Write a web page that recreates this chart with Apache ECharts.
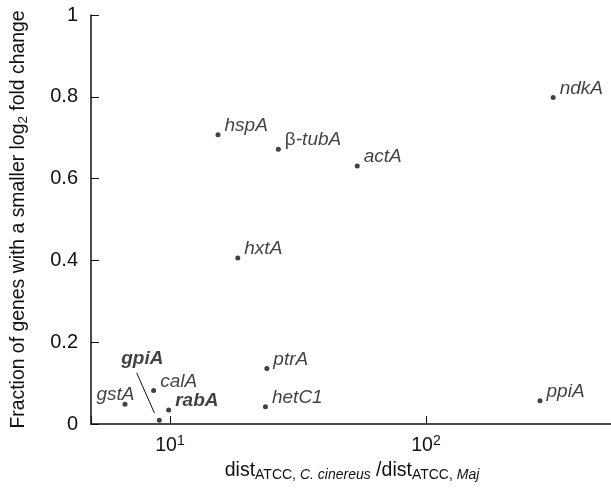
<!DOCTYPE html>
<html lang="en">
<head>
    <meta charset="UTF-8">
    <title>Fold change fraction</title>
    <script src="https://cdn.jsdelivr.net/npm/echarts@6/dist/echarts.min.js"></script>
    <style>
        html, body {margin: 0; padding: 0; background: #fff;}
        #chart {width: 611px; height: 489px;}
    </style>
</head>
<body>
<div id="chart"></div>
<script>
    // data
    var genes = ['hspA', 'β-tubA', 'actA', 'ndkA', 'hxtA', 'ptrA', 'hetC1', 'ppiA', 'gstA', 'calA', 'rabA', 'gpiA'];
    var distRatio = [15.4, 26.5, 53.9, 314, 18.4, 23.9, 23.6, 279, 6.67, 8.63, 9.88, 9.08];
    var fraction = [0.707, 0.672, 0.631, 0.798, 0.406, 0.136, 0.042, 0.057, 0.048, 0.082, 0.034, 0.009];
    var boldGenes = ['rabA', 'gpiA'];
    var yTicks = [0, 0.2, 0.4, 0.6, 0.8, 1];
    // leader line from gpiA label down to its point (data space)
    var gpiLeader = [[7.41, 0.125], [8.69, 0.027]];

    var ink = '#111';
    var font = 'Liberation Sans';

    var points = [];
    for (var i = 0; i < genes.length; i++) {
        var item = {name: genes[i], value: [distRatio[i], fraction[i]]};
        var lab = {};
        if (boldGenes.indexOf(genes[i]) >= 0) lab.fontWeight = 'bold';
        if (genes[i] === 'gstA') { lab.position = 'left'; lab.offset = [16, -10]; }
        if (genes[i] === 'gpiA') { lab.position = 'top'; lab.offset = [-17, -46]; }
        item.label = lab;
        points.push(item);
    }

    var myChart = echarts.init(document.getElementById('chart'));
    var option = {
        backgroundColor: '#fff',
        animation: false,
        grid: {left: 91, top: 15, right: -2, bottom: 65, outerBoundsMode: 'none', containLabel: false},
        xAxis: {
            type: 'log',
            logBase: 10,
            min: 4.913,
            max: 537.8,
            name: 'dist{sub|ATCC, }{subi|C. cinereus}{n| /dist}{sub|ATCC, }{subi|Maj}',
            nameLocation: 'middle',
            nameGap: 30,
            nameTextStyle: {
                color: ink, fontFamily: font, fontSize: 19.5,
                rich: {
                    n: {color: ink, fontFamily: font, fontSize: 19.5},
                    sub: {color: ink, fontFamily: font, fontSize: 14, padding: [9, 0, 0, 0]},
                    subi: {color: ink, fontFamily: font, fontSize: 14, fontStyle: 'italic', padding: [9, 0, 0, 0]}
                }
            },
            axisLine: {lineStyle: {color: ink, width: 1.5}},
            axisTick: {inside: true, length: 8, lineStyle: {color: ink, width: 1}},
            minorTick: {show: false},
            splitLine: {show: false},
            axisLabel: {
                color: ink, fontFamily: font, fontSize: 19.5, margin: 10,
                formatter: function (v) {
                    var lg = Math.log(v) / Math.LN10;
                    var e = Math.round(lg);
                    if (Math.abs(lg - e) > 1e-6) return '';
                    return '10{sup|' + e + '}';
                },
                rich: {
                    sup: {color: ink, fontFamily: font, fontSize: 14, padding: [0, 0, 9, 0]}
                }
            }
        },
        yAxis: {
            type: 'value',
            min: yTicks[0],
            max: yTicks[yTicks.length - 1],
            interval: yTicks[1] - yTicks[0],
            name: 'Fraction of genes with a smaller log{sub|2} fold change',
            nameLocation: 'middle',
            nameGap: 61,
            nameTextStyle: {
                color: ink, fontFamily: font, fontSize: 19.4,
                rich: {
                    sub: {color: ink, fontFamily: font, fontSize: 13.5, padding: [9, 0, 0, 0]}
                }
            },
            axisLine: {show: true, lineStyle: {color: ink, width: 1.5}},
            axisTick: {show: true, inside: true, length: 8, lineStyle: {color: ink, width: 1}},
            splitLine: {show: false},
            axisLabel: {color: ink, fontFamily: font, fontSize: 20, margin: 13}
        },
        series: [{
            type: 'scatter',
            symbol: 'circle',
            symbolSize: 5,
            itemStyle: {color: ink},
            label: {
                show: true,
                position: 'right',
                distance: 4,
                offset: [0, -9],
                formatter: function (p) {
                    // greek prefix is set upright in the figure
                    return p.name.replace('β', '{up|β}');
                },
                color: ink,
                fontFamily: font,
                fontSize: 19,
                fontStyle: 'italic',
                rich: {
                    up: {color: ink, fontFamily: font, fontSize: 19, fontStyle: 'normal'}
                }
            },
            markLine: {
                silent: true,
                symbol: 'none',
                label: {show: false},
                lineStyle: {color: ink, width: 1, type: 'solid'},
                data: [[{coord: gpiLeader[0]}, {coord: gpiLeader[1]}]]
            },
            data: points
        }]
    };
    myChart.setOption(option);
</script>
</body>
</html>
